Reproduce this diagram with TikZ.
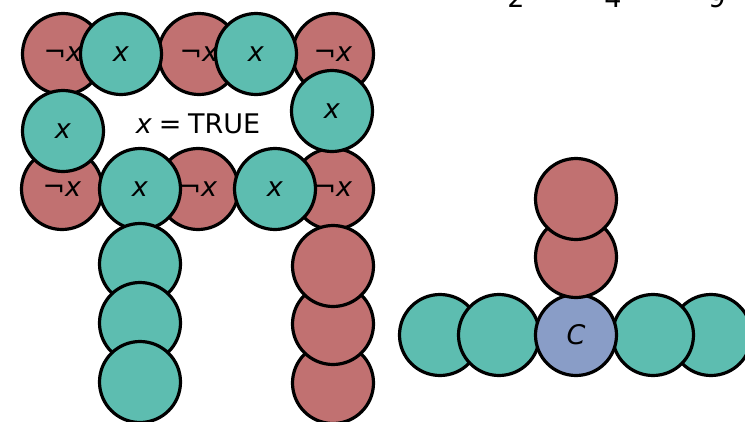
\documentclass[tikz,border=0pt]{standalone}
\usepackage{fontspec}
\setmainfont{DejaVu Sans}
\begin{document}
\begin{tikzpicture}[x=1pt,y=-1pt,
  ball/.style={circle,draw=black,line width=3.2pt,minimum size=81pt,inner sep=0pt,font=\fontsize{27}{30}\selectfont},
  negball/.style={ball,fill=negred},
  posball/.style={ball,fill=posteal},
  cball/.style={ball,fill=cblue},
  lbl/.style={font=\fontsize{27}{30}\selectfont,inner sep=0pt}]
\definecolor{negred}{RGB}{193,113,113}
\definecolor{posteal}{RGB}{93,189,176}
\definecolor{cblue}{RGB}{137,157,199}
\useasboundingbox (0,0) rectangle (745,421);
\clip (0,0) rectangle (745,421);
% top digits (cut off, as in the reference)
\node[lbl,anchor=base] (d2) at (516,7) {2};
\node[lbl,anchor=base] (d4) at (613,7) {4};
\node[lbl,anchor=base] (d9) at (717,7) {9};
% left figure: red balls
\node[negball] (r1a) at (63,54) {¬\textit{x}};
\node[negball] (r1b) at (199,54) {¬\textit{x}};
\node[negball] (r1c) at (333,54) {¬\textit{x}};
\node[negball] (r3a) at (62,189) {¬\textit{x}};
\node[negball] (r3b) at (198,189) {¬\textit{x}};
\node[negball] (r3c) at (333,189) {¬\textit{x}};
\node[negball] (rc3) at (333,383) {};
\node[negball] (rc2) at (333,324) {};
\node[negball] (rc1) at (333,266) {};
% teal balls
\node[posball] (t1a) at (121,54) {\textit{x}};
\node[posball] (t1b) at (256,54) {\textit{x}};
\node[posball] (t2a) at (63,131) {\textit{x}};
\node[posball] (t2b) at (332,111) {\textit{x}};
\node[posball] (t3a) at (140,189) {\textit{x}};
\node[posball] (t3b) at (275,189) {\textit{x}};
\node[posball] (tc1) at (140,264) {};
\node[posball] (tc2) at (140,323) {};
\node[posball] (tc3) at (140,382) {};
\node[lbl] (truth) at (198,124) {\textit{x}\hspace{0.25em}=\hspace{0.25em}TRUE};
% right figure
\node[posball] (g1) at (440,335) {};
\node[posball] (g4) at (711,335) {};
\node[posball] (g2) at (499,335) {};
\node[posball] (g3) at (653,335) {};
\node[cball] (c) at (576,335) {\textit{C}};
\node[negball] (u2) at (576,257) {};
\node[negball] (u1) at (576,199) {};
\end{tikzpicture}
\end{document}
